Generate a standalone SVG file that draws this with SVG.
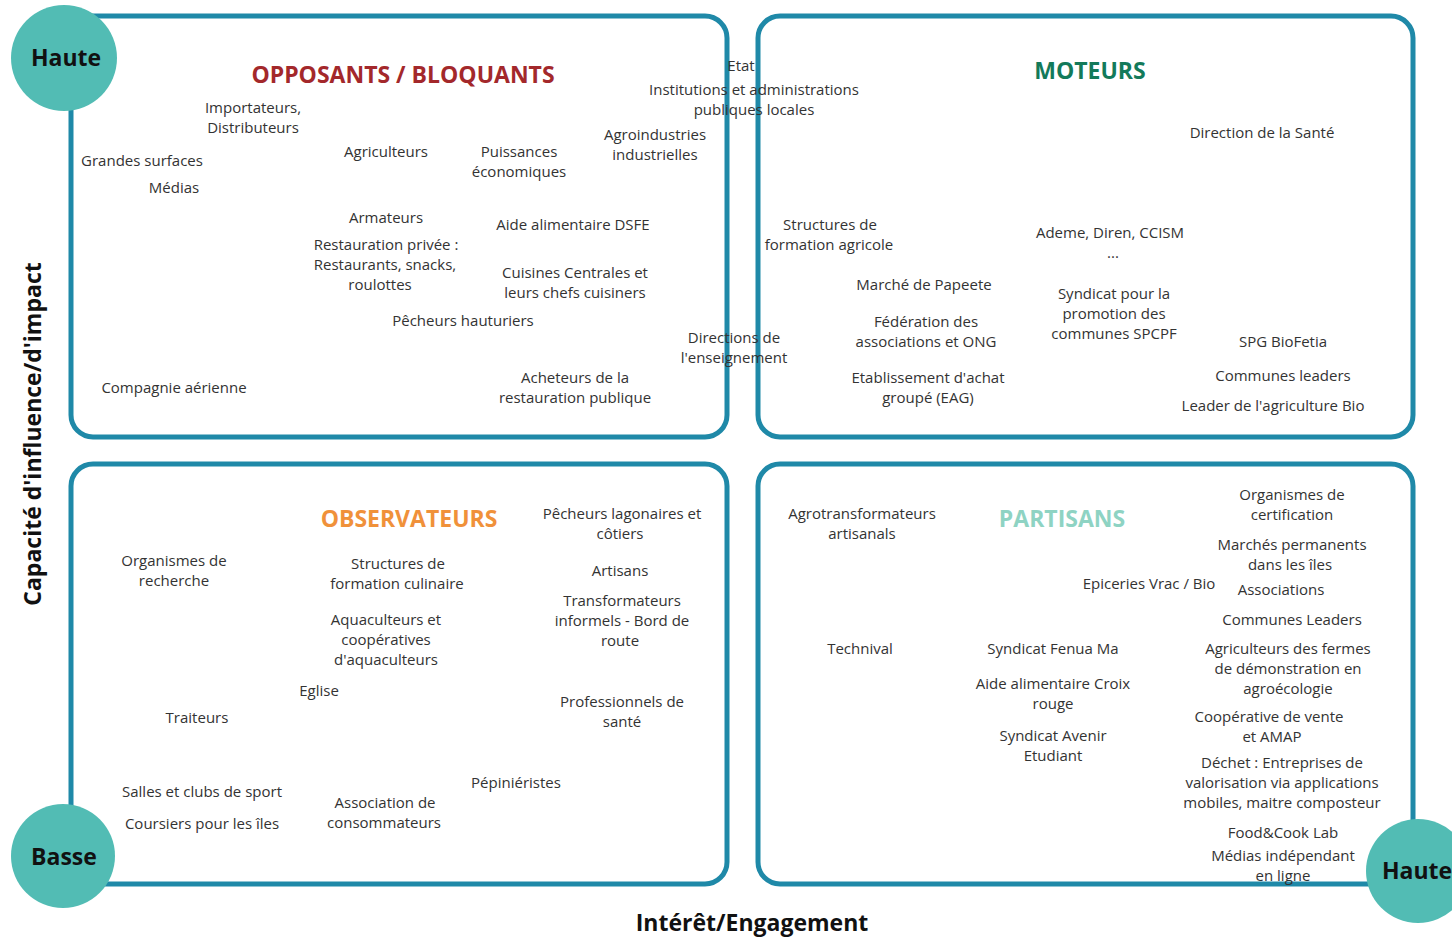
<svg xmlns="http://www.w3.org/2000/svg" width="1452" height="937" viewBox="0 0 1452 937">
<style>
.box{fill:#fff;stroke:#1f89a8;stroke-width:5}
.dot{fill:#52bcb4}
text{font-family:"Open Sans","DejaVu Sans",sans-serif}
.t{font-size:15px;fill:#333;text-anchor:middle}
.h{font-size:23px;font-weight:bold;text-anchor:middle}
.c{font-size:23px;font-weight:bold;fill:#111;text-anchor:middle}
.ax{font-size:23px;font-weight:bold;fill:#111;text-anchor:middle}
</style>
<rect width="1452" height="937" fill="#fff"/>
<g id="quadrants">
<rect id="box-opposants" class="box" x="71" y="16" width="656" height="421" rx="22"/>
<rect id="box-moteurs" class="box" x="758" y="16" width="655" height="421" rx="22"/>
<rect id="box-observateurs" class="box" x="71" y="464" width="656" height="420" rx="22"/>
<rect id="box-partisans" class="box" x="758" y="464" width="655" height="420" rx="22"/>
</g>
<g id="opposants">
<text class="h" x="403" y="83" fill="#a3282b">OPPOSANTS / BLOQUANTS</text>
<text class="t" x="253" y="113">Importateurs,</text>
<text class="t" x="253" y="133">Distributeurs</text>
<text class="t" x="142" y="166">Grandes surfaces</text>
<text class="t" x="174" y="193">Médias</text>
<text class="t" x="386" y="157">Agriculteurs</text>
<text class="t" x="519" y="157">Puissances</text>
<text class="t" x="519" y="177">économiques</text>
<text class="t" x="655" y="140">Agroindustries</text>
<text class="t" x="655" y="160">industrielles</text>
<text class="t" x="741" y="71">Etat</text>
<text class="t" x="754" y="95">Institutions et administrations</text>
<text class="t" x="754" y="115">publiques locales</text>
<text class="t" x="386" y="223">Armateurs</text>
<text class="t" x="573" y="230">Aide alimentaire DSFE</text>
<text class="t" x="386" y="250">Restauration privée :</text>
<text class="t" x="385" y="270">Restaurants, snacks,</text>
<text class="t" x="380" y="290">roulottes</text>
<text class="t" x="575" y="278">Cuisines Centrales et</text>
<text class="t" x="575" y="298">leurs chefs cuisiners</text>
<text class="t" x="463" y="326">Pêcheurs hauturiers</text>
<text class="t" x="734" y="343">Directions de</text>
<text class="t" x="734" y="363">l'enseignement</text>
<text class="t" x="174" y="393">Compagnie aérienne</text>
<text class="t" x="575" y="383">Acheteurs de la</text>
<text class="t" x="575" y="403">restauration publique</text>
</g>
<g id="moteurs">
<text class="h" x="1090" y="79" fill="#137a5a">MOTEURS</text>
<text class="t" x="1262" y="138">Direction de la Santé</text>
<text class="t" x="830" y="230">Structures de</text>
<text class="t" x="829" y="250">formation agricole</text>
<text class="t" x="1110" y="238">Ademe, Diren, CCISM</text>
<text class="t" x="1113" y="258">...</text>
<text class="t" x="924" y="290">Marché de Papeete</text>
<text class="t" x="1114" y="299">Syndicat pour la</text>
<text class="t" x="1114" y="319">promotion des</text>
<text class="t" x="1114" y="339">communes SPCPF</text>
<text class="t" x="926" y="327">Fédération des</text>
<text class="t" x="926" y="347">associations et ONG</text>
<text class="t" x="1283" y="347">SPG BioFetia</text>
<text class="t" x="1283" y="381">Communes leaders</text>
<text class="t" x="928" y="383">Etablissement d'achat</text>
<text class="t" x="928" y="403">groupé (EAG)</text>
<text class="t" x="1273" y="411">Leader de l'agriculture Bio</text>
</g>
<g id="observateurs">
<text class="h" x="409" y="527" fill="#f0913a">OBSERVATEURS</text>
<text class="t" x="622" y="519">Pêcheurs lagonaires et</text>
<text class="t" x="620" y="539">côtiers</text>
<text class="t" x="174" y="566">Organismes de</text>
<text class="t" x="174" y="586">recherche</text>
<text class="t" x="398" y="569">Structures de</text>
<text class="t" x="397" y="589">formation culinaire</text>
<text class="t" x="620" y="576">Artisans</text>
<text class="t" x="622" y="606">Transformateurs</text>
<text class="t" x="622" y="626">informels - Bord de</text>
<text class="t" x="620" y="646">route</text>
<text class="t" x="386" y="625">Aquaculteurs et</text>
<text class="t" x="386" y="645">coopératives</text>
<text class="t" x="386" y="665">d'aquaculteurs</text>
<text class="t" x="319" y="696">Eglise</text>
<text class="t" x="197" y="723">Traiteurs</text>
<text class="t" x="622" y="707">Professionnels de</text>
<text class="t" x="622" y="727">santé</text>
<text class="t" x="516" y="788">Pépiniéristes</text>
<text class="t" x="202" y="797">Salles et clubs de sport</text>
<text class="t" x="385" y="808">Association de</text>
<text class="t" x="384" y="828">consommateurs</text>
<text class="t" x="202" y="829">Coursiers pour les îles</text>
</g>
<g id="partisans">
<text class="h" x="1062" y="527" fill="#8ed3c3">PARTISANS</text>
<text class="t" x="862" y="519">Agrotransformateurs</text>
<text class="t" x="862" y="539">artisanals</text>
<text class="t" x="1292" y="500">Organismes de</text>
<text class="t" x="1292" y="520">certification</text>
<text class="t" x="1292" y="550">Marchés permanents</text>
<text class="t" x="1290" y="570">dans les îles</text>
<text class="t" x="1149" y="589">Epiceries Vrac / Bio</text>
<text class="t" x="1281" y="595">Associations</text>
<text class="t" x="1292" y="625">Communes Leaders</text>
<text class="t" x="860" y="654">Technival</text>
<text class="t" x="1053" y="654">Syndicat Fenua Ma</text>
<text class="t" x="1288" y="654">Agriculteurs des fermes</text>
<text class="t" x="1288" y="674">de démonstration en</text>
<text class="t" x="1288" y="694">agroécologie</text>
<text class="t" x="1053" y="689">Aide alimentaire Croix</text>
<text class="t" x="1053" y="709">rouge</text>
<text class="t" x="1269" y="722">Coopérative de vente</text>
<text class="t" x="1272" y="742">et AMAP</text>
<text class="t" x="1053" y="741">Syndicat Avenir</text>
<text class="t" x="1053" y="761">Etudiant</text>
<text class="t" x="1282" y="768">Déchet : Entreprises de</text>
<text class="t" x="1282" y="788">valorisation via applications</text>
<text class="t" x="1282" y="808">mobiles, maitre composteur</text>
<text class="t" x="1283" y="838">Food&amp;Cook Lab</text>
<text class="t" x="1283" y="861">Médias indépendant</text>
<text class="t" x="1283" y="881">en ligne</text>
</g>
<g id="level-haute-top">
<circle class="dot" cx="64" cy="58" r="53"/>
<text class="c" x="66" y="66">Haute</text>
</g>
<g id="level-basse">
<circle class="dot" cx="63" cy="856" r="52"/>
<text class="c" x="64" y="865">Basse</text>
</g>
<g id="level-haute-right">
<circle class="dot" cx="1418" cy="871" r="52"/>
<text class="c" x="1417" y="879">Haute</text>
</g>
<g id="axes">
<text class="ax" transform="translate(41,434) rotate(-90)">Capacité d'influence/d'impact</text>
<text class="ax" x="752" y="931">Intérêt/Engagement</text>
</g>
</svg>
